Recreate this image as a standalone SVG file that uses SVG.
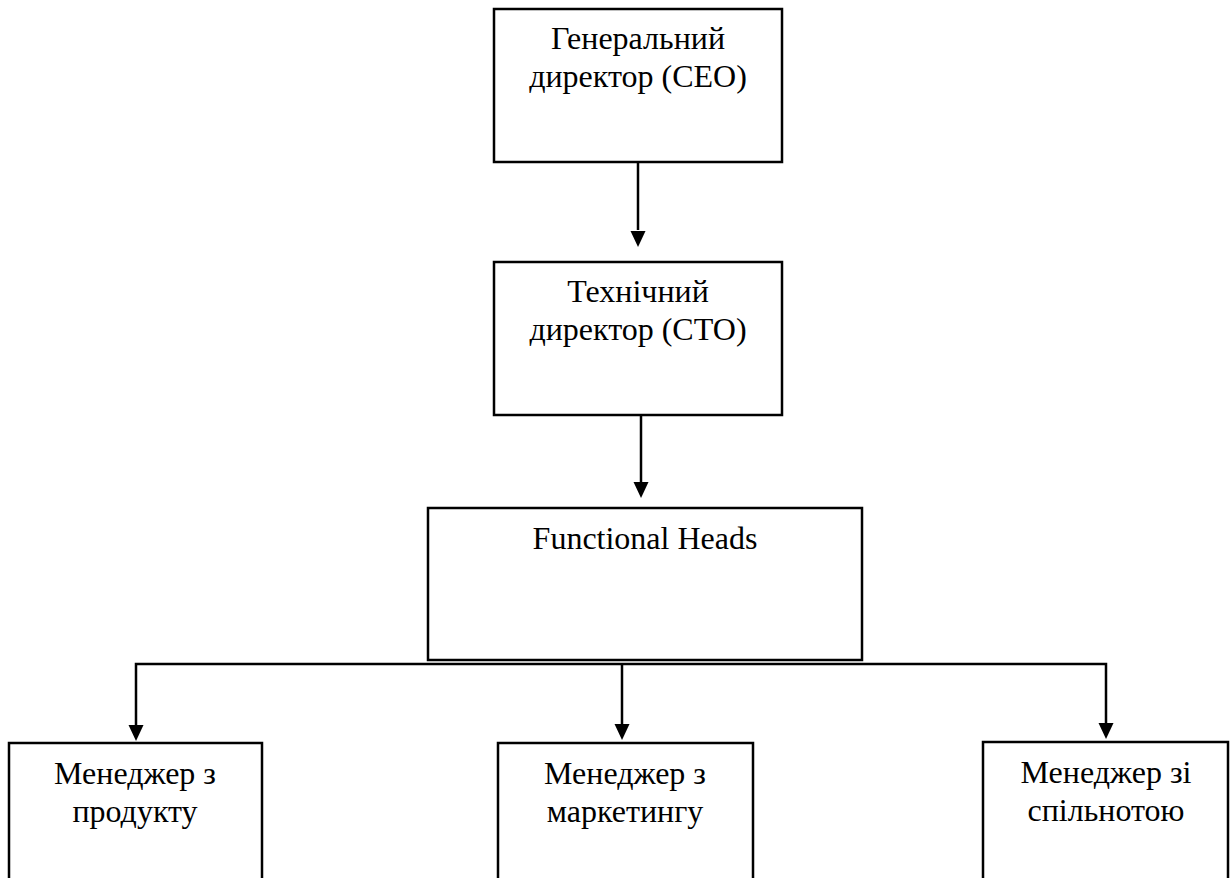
<svg xmlns="http://www.w3.org/2000/svg" width="1231" height="878" viewBox="0 0 1231 878">
<style>
.box{fill:#fff;stroke:#000;stroke-width:2.5}
.lbl{font-family:"Liberation Serif","Times New Roman",serif;font-size:32px;fill:#000;text-anchor:middle}
.con{fill:none;stroke:#000;stroke-width:2.5}
</style>
<defs>
<marker id="arr" markerUnits="userSpaceOnUse" markerWidth="16" markerHeight="18" refX="8" refY="16" orient="auto-start-reverse" viewBox="0 0 16 18">
<path d="M0.5,0 L15.5,0 L8,16 Z" fill="#000"/>
</marker>
</defs>
<rect width="1231" height="878" fill="#fff"/>
<g id="connectors">
<line class="con" x1="638" y1="162" x2="638" y2="230" />
<path d="M630.5,231 L645.5,231 L638,247 Z" fill="#000"/>
<line class="con" x1="641" y1="415" x2="641" y2="482" />
<path d="M633.5,482 L648.5,482 L641,498 Z" fill="#000"/>
<polyline class="con" points="136,725 136,664 1106,664 1106,723" />
<line class="con" x1="622" y1="664" x2="622" y2="724" />
<path d="M128.5,725 L143.5,725 L136,741 Z" fill="#000"/>
<path d="M614.5,724 L629.5,724 L622,740 Z" fill="#000"/>
<path d="M1098.5,723 L1113.5,723 L1106,739 Z" fill="#000"/>
</g>
<g id="ceo">
<rect class="box" x="494" y="9" width="288" height="153"/>
<text class="lbl" x="638" y="49">Генеральний</text>
<text class="lbl" x="638" y="87">директор (СЕО)</text>
</g>
<g id="cto">
<rect class="box" x="494" y="262" width="288" height="153"/>
<text class="lbl" x="638" y="302">Технічний</text>
<text class="lbl" x="638" y="340">директор (СТО)</text>
</g>
<g id="heads">
<rect class="box" x="428" y="508" width="434" height="152"/>
<text class="lbl" x="645" y="549">Functional Heads</text>
</g>
<g id="product">
<rect class="box" x="9" y="743" width="253" height="150"/>
<text class="lbl" x="135" y="784">Менеджер з</text>
<text class="lbl" x="135" y="822">продукту</text>
</g>
<g id="marketing">
<rect class="box" x="498" y="743" width="255" height="150"/>
<text class="lbl" x="625" y="784">Менеджер з</text>
<text class="lbl" x="625" y="822">маркетингу</text>
</g>
<g id="community">
<rect class="box" x="983" y="742" width="245" height="150"/>
<text class="lbl" x="1106" y="783">Менеджер зі</text>
<text class="lbl" x="1106" y="821">спільнотою</text>
</g>
</svg>
